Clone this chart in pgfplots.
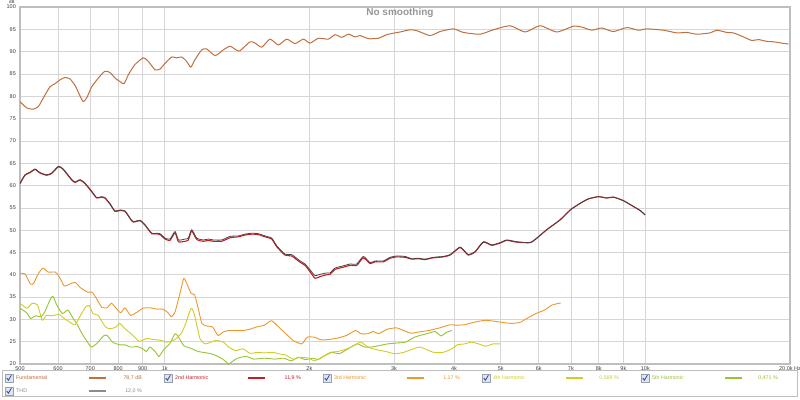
\documentclass[border=0pt]{standalone}
\usepackage{pgfplots}
\pgfplotsset{compat=1.18}
\usepackage{pgfplotstable}
\usepackage{fontspec}
\setmainfont{Liberation Sans}
\definecolor{cfund}{RGB}{190,112,62}
\definecolor{ch2}{RGB}{196,30,36}
\definecolor{ch3}{RGB}{236,152,42}
\definecolor{ch4}{RGB}{208,204,40}
\definecolor{ch5}{RGB}{150,196,50}
\definecolor{cthd}{RGB}{78,64,64}
\definecolor{cthdleg}{RGB}{140,140,140}
\definecolor{cgrid}{RGB}{214,214,214}
\definecolor{cframe}{RGB}{190,190,190}
\definecolor{ctext}{RGB}{60,60,60}
\definecolor{ctitle}{RGB}{150,150,150}
\definecolor{cbox}{RGB}{150,160,175}
\definecolor{cboxfill}{RGB}{225,230,238}
\definecolor{ccheck}{RGB}{40,70,150}
\newcommand{\legfont}{\fontsize{5.3}{6}\selectfont}

\pgfplotstableread{
f db
500 78.8
516 77.4
533 77.1
546 77.7
559 79.6
577 82.1
591 82.8
606 83.7
620 84.2
635 83.9
651 82.4
667 80.0
677 78.8
688 79.6
705 82.1
728 84.1
751 85.6
770 85.3
788 84.1
807 83.3
823 82.8
840 84.8
867 87.1
903 88.6
925 87.8
955 85.9
978 86.1
1002 87.4
1034 88.8
1059 88.6
1085 88.8
1111 87.8
1133 86.5
1156 88.2
1194 90.4
1223 90.6
1273 89.1
1324 90.4
1368 91.2
1412 90.3
1435 90.2
1505 92.2
1542 91.9
1592 91.0
1656 92.8
1724 91.5
1794 92.8
1867 91.8
1943 92.8
2006 91.9
2088 93.0
2190 92.8
2262 93.8
2335 93.2
2411 93.9
2489 93.3
2550 93.6
2653 92.9
2783 93.0
2897 93.8
3015 94.2
3088 94.4
3240 94.9
3345 94.7
3565 93.6
3740 94.5
3987 95.1
4183 94.3
4531 93.9
4829 94.9
5231 95.8
5621 94.4
6040 95.8
6543 94.4
7085 95.7
7376 95.5
7738 94.8
8118 95.3
8582 94.5
9150 95.4
9675 94.8
10071 95.1
10905 94.8
11627 94.2
12198 94.3
12797 93.9
13639 94.2
14084 94.8
14775 94.3
15251 94.2
16000 93.3
16656 92.5
17193 92.7
17897 92.3
18474 92.2
19231 91.9
19851 91.7
}\fundtable

\pgfplotstableread{
f thd h2
500 60.5 60.4
512 62.4 62.3
525 63.0 62.9
537 63.7 63.6
550 62.9 62.8
568 62.4 62.3
582 62.8 62.7
601 64.3 64.2
615 63.7 63.6
641 61.3 61.2
651 60.8 60.7
667 61.3 61.2
683 60.5 60.4
705 58.7 58.6
722 57.3 57.2
740 57.5 57.4
751 57.3 57.2
770 55.9 55.8
788 54.3 54.2
807 54.5 54.4
827 54.3 54.2
847 52.7 52.6
860 51.9 51.8
889 52.2 52.1
910 51.2 51.1
940 49.3 49.2
962 49.3 49.2
978 49.2 49.0
1002 48.2 48.0
1026 48.0 47.7
1051 49.7 49.4
1068 47.8 47.4
1102 48.0 47.5
1120 48.2 47.8
1138 50.1 49.8
1166 48.2 47.9
1203 47.8 47.5
1233 48.0 47.7
1262 47.8 47.5
1314 47.8 47.5
1368 48.6 48.3
1423 48.7 48.5
1469 49.1 48.9
1517 49.3 49.1
1566 49.2 49.0
1617 48.7 48.5
1670 48.2 48.0
1710 46.5 46.3
1780 44.6 44.4
1838 44.5 44.2
1913 43.1 42.8
1959 42.4 42.1
2006 41.1 40.7
2055 39.8 39.2
2105 40.1 39.6
2173 40.4 40.0
2208 40.4 40.1
2262 41.5 41.2
2354 42.0 41.7
2430 42.4 42.1
2509 42.4 42.1
2590 44.1 43.8
2675 42.7 42.5
2740 43.1 42.9
2851 43.1 42.9
2944 43.9 43.7
3040 44.2 44.0
3163 44.1 43.9
3266 43.6 43.5
3371 43.7 43.6
3481 43.5 43.4
3622 43.9 43.8
3800 44.1 44.0
3924 44.5 44.4
4019 45.4 45.3
4117 46.2 46.1
4217 45.2 45.1
4284 44.5 44.4
4424 45.2 45.1
4603 47.4 47.3
4792 46.7 46.6
4986 47.2 47.1
5149 47.8 47.7
5402 47.4 47.3
5757 47.2 47.2
5945 48.2 48.2
6237 50.1 50.1
6647 52.3 52.3
6974 54.5 54.5
7316 56.0 56.0
7614 57.0 57.0
7987 57.5 57.5
8314 57.2 57.2
8582 57.4 57.4
9003 56.6 56.6
9445 55.3 55.3
9753 54.4 54.4
9990 53.4 53.4
}\thdtable

\pgfplotstableread{
f db
500 40.3
512 40.2
526 37.9
534 38.1
544 40.0
558 41.5
572 40.6
592 40.6
603 39.6
618 37.5
634 37.9
651 38.3
668 37.1
691 36.1
706 36.1
721 34.7
740 32.7
759 32.6
775 33.6
792 32.5
810 31.5
827 32.6
849 30.9
878 31.7
901 32.5
932 32.6
964 32.3
990 32.3
1016 31.5
1033 30.6
1051 31.7
1078 36.2
1096 39.2
1115 37.7
1135 35.8
1154 35.5
1174 32.5
1195 29.1
1225 28.5
1258 28.3
1291 26.4
1324 27.2
1359 27.5
1405 27.5
1455 27.5
1505 27.8
1552 28.3
1612 28.7
1668 29.7
1726 28.3
1786 26.8
1849 25.3
1929 24.5
1979 26.0
2048 26.0
2119 25.4
2193 25.5
2289 25.8
2389 26.4
2494 27.5
2558 26.8
2649 26.8
2716 27.3
2786 26.8
2908 27.8
3036 28.1
3142 27.5
3251 26.9
3391 27.2
3542 27.5
3734 28.1
3924 28.8
4027 28.7
4203 28.8
4424 29.4
4656 29.8
4986 29.4
5249 29.1
5476 29.3
5670 30.2
5917 31.3
6174 32.1
6391 33.2
6613 33.6
6667 33.7
}\hthreetable

\pgfplotstableread{
f db
500 33.6
517 32.5
530 33.6
544 33.2
556 29.8
567 30.9
582 30.8
603 31.1
618 30.2
634 29.4
651 28.8
668 30.9
685 32.8
697 33.1
709 31.3
727 30.9
753 28.3
772 27.9
792 28.3
806 29.1
827 27.9
855 26.6
885 25.1
916 25.7
948 25.5
981 25.3
1007 24.9
1033 25.1
1060 25.8
1087 27.2
1106 29.1
1135 32.5
1154 30.9
1184 25.7
1215 24.5
1247 24.9
1279 25.3
1324 24.9
1359 23.8
1405 23.0
1455 23.4
1505 22.4
1557 22.6
1612 22.5
1682 22.6
1726 22.3
1786 22.0
1849 21.1
1913 21.5
1996 21.3
2048 20.7
2119 21.5
2212 22.6
2289 22.8
2368 23.2
2472 24.1
2558 24.9
2649 23.8
2763 23.2
2884 22.8
3009 22.3
3142 22.6
3251 23.2
3391 23.8
3511 23.2
3632 22.6
3793 22.6
3958 23.4
4060 24.3
4203 24.5
4348 24.9
4499 24.5
4656 24.0
4820 24.5
4986 24.5
}\hfourtable

\pgfplotstableread{
f db
500 32.5
517 31.4
526 30.2
538 30.8
553 30.6
563 31.7
577 34.3
585 35.2
597 33.1
613 31.3
629 32.1
645 30.2
656 29.1
673 26.8
691 24.9
703 23.8
721 24.5
746 26.3
759 26.4
779 24.9
806 24.3
827 24.3
849 23.8
878 23.9
901 23.4
916 22.8
932 23.8
957 22.7
973 21.7
998 23.4
1024 24.5
1051 26.8
1069 26.0
1096 24.1
1135 23.5
1174 22.8
1205 22.6
1247 22.3
1279 21.9
1324 21.0
1359 20.0
1381 20.5
1417 21.3
1479 21.7
1531 21.1
1612 21.3
1697 21.1
1770 21.3
1833 20.7
1896 21.5
1963 21.0
2031 21.3
2084 21.0
2156 21.9
2230 22.6
2308 22.3
2389 23.2
2515 24.5
2603 23.8
2693 23.8
2786 24.1
2908 24.5
3036 24.7
3169 24.9
3307 26.0
3451 26.6
3572 27.0
3652 27.3
3760 26.3
3856 27.1
3958 27.5
}\hfivetable

\newcommand{\legitem}[6]{%
  \begin{scope}[shift={(#1pt,#2pt)}]
    \draw[cbox, fill=cboxfill, line width=0.4pt] (-3.8pt,-3.8pt) rectangle (3.8pt,3.8pt);
    \draw[ccheck, line width=0.8pt] (-2.2pt,0pt) -- (-0.6pt,-2.2pt) -- (2.4pt,2.8pt);
    \node[anchor=west, inner sep=0pt, text=#3, font=\legfont] at (7pt,0pt) {#4};
    \draw[#5, line width=1.1pt] (80pt,0pt) -- (97pt,0pt);
    \node[anchor=east, inner sep=0pt, text=#3, font=\legfont] at (133pt,0pt) {#6};
  \end{scope}}

\begin{document}
\begin{tikzpicture}
\useasboundingbox (-20pt,-35pt) rectangle (780pt,364pt);
\begin{axis}[
  at={(0pt,0pt)}, anchor=south west,
  scale only axis, width=770pt, height=357pt,
  xmode=log, xmin=500, xmax=20000, ymin=20, ymax=100,
  xtick={500,600,700,800,900,1000,2000,3000,4000,5000,6000,7000,8000,9000,10000,20000},
  xticklabels={500,600,700,800,900,1k,2k,3k,4k,5k,6k,7k,8k,9k,10k,{20,0k Hz}},
  ytick={20,25,...,100},
  minor xtick={},
  grid=major,
  major grid style={cgrid, line width=0.6pt},
  axis line style={cframe, line width=1.2pt},
  tick style={draw=none},
  major tick length=0pt,
  /pgf/number format/assume math mode=true,
  ticklabel style={font=\fontsize{5.5}{6}\selectfont, text=ctext},
  xticklabel style={anchor=north, inner sep=0pt, yshift=-2pt},
  yticklabel style={anchor=east, inner sep=0pt, xshift=-4pt},
  every axis plot/.append style={line width=0.9pt, line join=round, smooth, tension=0.35},
]
\addplot[cfund, line width=1pt] table[x=f, y=db] {\fundtable};
\addplot[ch5] table[x=f, y=db] {\hfivetable};
\addplot[ch4] table[x=f, y=db] {\hfourtable};
\addplot[ch3] table[x=f, y=db] {\hthreetable};
\addplot[ch2, line width=1.1pt] table[x=f, y=h2] {\thdtable};
\addplot[cthd, line width=0.8pt] table[x=f, y=thd] {\thdtable};
\end{axis}
\node[anchor=north, inner sep=0pt, font=\fontsize{4.5}{5}\selectfont, text=ctext] at (-8pt,364pt) {dB};
\node[font=\bfseries\fontsize{10}{11}\selectfont, text=ctitle] at (380pt,351pt) {No smoothing};
\draw[cframe, line width=0.6pt, fill=white] (-18pt,-6pt) rectangle (777pt,-32pt);
\legitem{-11}{-14}{cfund}{Fundamental}{cfund}{78,7 dB}
\legitem{148}{-14}{ch2}{2nd Harmonic}{ch2}{11,9 \%}
\legitem{307}{-14}{ch3}{3rd Harmonic}{ch3}{1,17 \%}
\legitem{466}{-14}{ch4}{4th Harmonic}{ch4}{0,569 \%}
\legitem{625}{-14}{ch5}{5th Harmonic}{ch5}{0,471 \%}
\legitem{-11}{-27}{cthdleg}{THD}{cthdleg}{12,0 \%}
\end{tikzpicture}
\end{document}
